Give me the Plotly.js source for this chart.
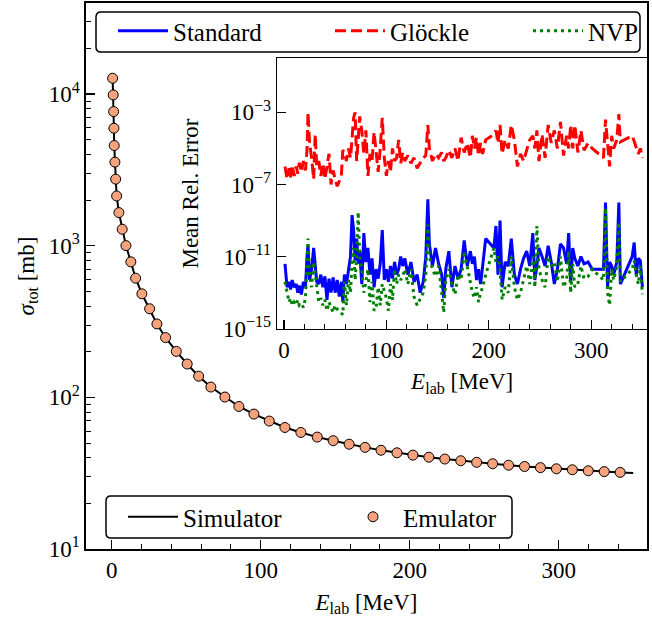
<!DOCTYPE html>
<html><head><meta charset="utf-8">
<script src="https://cdn.plot.ly/plotly-3.0.1.min.js"></script>
<style>html,body{margin:0;padding:0;background:#fff;}</style>
</head><body><div id="chart" style="width:652px;height:619px;"></div>
<script>
// Main panel: total cross section
const simulatorE = [0.67,1.07,1.34,1.54,1.74,2.2,2.7,3.35,4.9,7.1,9.6,12.9,16.1,20.3,25.5,30.4,36.2,43.4,50.7,58.4,66.6,76.0,85.4,95.5,105.8,116.3,127.0,138.0,148.7,159.4,170.1,180.8,191.5,202.2,212.9,223.6,234.3,245.0,255.7,266.4,277.1,287.8,298.5,309.2,319.9,330.6,341.3,350];
const simulatorSigma = [12730,9880,7670,5960,4580,3560,2750,2130,1655,1285,1002,783,611,482,384,305,248,201,166,138,117,100.5,87.1,77.6,69.8,63.3,58.7,54.7,51.8,49.1,46.8,44.8,43.1,41.6,40.3,39.2,38.2,37.3,36.5,35.7,35.0,34.4,33.8,33.3,32.8,32.4,32.0,31.7];
const emulatorE = [0.67,1.07,1.34,1.54,1.74,2.2,2.7,3.35,4.9,7.1,9.6,12.9,16.1,20.3,25.5,30.4,36.2,43.4,50.7,58.4,66.6,76.0,85.4,95.5,105.8,116.3,127.0,138.0,148.7,159.4,170.1,180.8,191.5,202.2,212.9,223.6,234.3,245.0,255.7,266.4,277.1,287.8,298.5,309.2,319.9,330.6,341.3];
const emulatorSigma = [12730,9880,7670,5960,4580,3560,2750,2130,1655,1285,1002,783,611,482,384,305,248,201,166,138,117,100.5,87.1,77.6,69.8,63.3,58.7,54.7,51.8,49.1,46.8,44.8,43.1,41.6,40.3,39.2,38.2,37.3,36.5,35.7,35.0,34.4,33.8,33.3,32.8,32.4,32.0];

// Inset: mean relative error
const testEnergies = [1,3,5,6.5,8,10,12,13.5,15,17,19,21,
 22.5,23.5,25,27,29,30.5,32,34,36,38,40,42,44,46,48,50,52,54,56,57.5,59,61,63,65,
 66.5,68,69.5,71,72.5,74,76,78,80,82,84,86,88,90,92,94,96,98,100,
 102,104,106,108,110,112,114,116,118,
 121,124,127,130,133,136,138.5,140.5,142,145,148,151,154,156,158,161,164,167,170,173,176,179,182,184,186,188,190,192,194,197,
 205,207,209,211,213,216,219,222,225,228,231,234,237,240,243,245,247,249,252,255,258,261,264,267,270,273,276,278,280,282,284,287,290,293,297,301,
 312,314,316,318,320,322,325,327,328.5,
 340,342,344,346,348,350];
const glockleErr = [1e-6,2e-7,8e-7,2.5e-7,1.2e-6,3e-7,1e-6,4e-7,1.6e-6,5e-7,2e-6,6e-7,
 8e-6,1e-3,2e-5,3e-6,2e-7,6e-5,1e-6,2e-6,3e-7,1.5e-6,2e-7,8e-7,5e-6,1e-7,6e-7,2e-7,8e-8,1.5e-7,3e-7,8e-6,6e-6,2e-6,1e-5,3e-6,
 5e-5,5e-4,1e-3,2e-6,3e-5,6e-4,1e-4,5e-6,1e-4,3e-7,5e-6,2e-6,8e-5,4e-6,5e-7,1e-5,5e-4,3e-6,3e-7,
 2e-6,5e-7,1e-5,2e-6,3e-6,3e-5,1.5e-6,6e-6,2e-6,
 4e-6,1.5e-6,3e-6,8e-7,1.5e-6,3e-6,4e-6,2e-4,1e-5,2e-6,5e-6,3e-6,6e-6,2e-6,3e-6,8e-6,3e-6,1e-5,2e-6,4e-5,6e-6,2e-5,3e-6,5e-5,1e-5,4e-5,4e-6,2e-5,5e-6,3e-5,
 6e-5,1e-4,2e-5,2e-4,5e-6,3e-5,1e-5,2e-4,3e-5,1e-6,5e-6,2e-6,8e-6,3e-5,5e-5,1e-5,1e-4,2e-6,6e-5,3e-6,2e-4,2e-5,1e-4,1e-5,3e-4,4e-6,5e-5,1e-5,2e-4,1e-5,2e-4,6e-6,1e-4,8e-6,2e-5,1e-5,
 3e-6,4e-4,2e-5,1e-6,5e-5,1e-5,3e-5,8e-4,2.3e-5,
 5e-5,2.5e-5,1e-5,5e-6,1e-5,3e-6];
const standardErr = [4e-12,2e-13,4e-13,1.5e-13,5e-13,2e-13,3e-13,1e-13,2.5e-13,8e-14,4e-13,2e-13,
 1e-11,4e-11,5e-13,2e-12,3e-11,2e-12,4e-13,3e-13,1e-12,2e-13,8e-13,4e-14,6e-13,1e-13,7e-13,1e-13,5e-13,6e-14,4e-13,3e-14,1e-12,3e-13,2e-12,1e-11,
 2e-9,3e-10,6e-12,1e-10,4e-12,2e-11,3e-13,2e-10,5e-12,3e-11,1e-12,8e-12,2e-13,2e-12,6e-13,4e-12,3e-10,5e-13,2e-12,
 4e-13,3e-12,6e-13,5e-12,1e-12,2e-12,1e-11,3e-12,8e-12,
 1e-12,5e-12,4e-13,1e-12,1e-13,4e-13,1e-11,1.5e-8,5e-11,3e-12,3e-11,4e-12,1e-12,5e-14,2e-12,2e-11,2e-13,3e-12,6e-13,2e-12,8e-11,3e-12,2e-11,4e-12,1e-11,5e-13,2e-12,3e-13,3e-12,1e-10,
 3e-11,5e-10,1e-12,1e-9,2e-13,5e-12,3e-12,1e-10,1e-12,3e-13,2e-12,8e-12,2e-11,3e-12,2e-10,5e-13,3e-12,3e-11,1e-11,3e-12,4e-11,5e-12,3e-13,2e-12,5e-11,3e-11,4e-12,2e-10,4e-13,3e-11,8e-12,3e-12,1e-11,4e-12,5e-12,2e-12,
 2e-12,1e-8,2e-13,5e-12,3e-12,1e-12,5e-12,1e-8,3e-13,
 1e-11,6e-11,1e-12,8e-12,6e-12,2e-13];
const nvpErr = [4e-13,1e-13,3e-14,5e-14,2e-14,3e-14,2e-14,4e-14,2e-14,2.5e-14,1.5e-14,5e-14,
 2e-11,1e-10,1e-12,2e-13,5e-12,1e-12,2e-13,3e-14,5e-14,2e-14,4e-14,1e-14,3e-14,1.5e-14,8e-15,2e-14,1.2e-14,1e-14,8e-15,6e-15,4e-13,2e-14,5e-13,1e-13,
 6e-12,3e-11,5e-13,1e-11,3e-9,1e-11,2e-12,1e-13,4e-13,2e-12,3e-14,4e-13,1e-14,1.5e-14,2e-13,2e-14,3e-13,1e-13,5e-14,
 1e-14,3e-13,4e-14,2e-12,3e-13,1e-12,5e-13,8e-13,2e-12,
 3e-13,2e-12,6e-14,2e-14,5e-14,1e-13,1e-12,6e-10,1e-11,2e-12,8e-13,3e-12,1e-13,8e-15,5e-13,2e-12,3e-13,8e-14,1e-12,5e-13,2e-11,3e-12,4e-13,1e-13,5e-14,2e-13,3e-14,1e-13,2e-13,1e-12,
 3e-11,5e-12,1e-11,2e-12,4e-14,2e-13,1e-13,1e-11,2e-13,4e-14,1e-13,5e-13,3e-12,3e-13,1e-11,2e-13,5e-10,2e-12,5e-13,2e-13,1e-11,3e-12,5e-12,4e-13,1e-11,2e-13,5e-13,2e-11,1e-13,4e-12,2e-13,3e-13,3e-12,6e-13,8e-13,2e-12,
 5e-13,5e-9,1e-13,2e-14,2e-12,5e-13,3e-12,8e-10,4e-13,
 2e-12,6e-12,1e-12,3e-13,3e-12,8e-14];

const mainXTicks = [0,100,200,300];
const mainYTicks = [10,100,1000,10000];
const mainYTickText = ['10<sup>1</sup>','10<sup>2</sup>','10<sup>3</sup>','10<sup>4</sup>'];
const insetYTicks = [1e-15,1e-11,1e-7,1e-3];
const insetYTickText = ['10<sup>−15</sup>','10<sup>−11</sup>','10<sup>−7</sup>','10<sup>−3</sup>'];

const FONT = 'Liberation Serif, Times New Roman, serif';
const xMinor = []; for (let v = 20; v < 360; v += 20) if (v % 100) xMinor.push(v);
const yMinor = []; [10,100,1000,10000].forEach(d => { for (let k = 2; k <= 9; k++) yMinor.push(k*d); });

// plot area geometry (px) for placing legend pieces
const L = 86, T = 3, PW = 561, PH = 546;
const fx = p => (p - L) / PW;
const fy = p => (T + PH - p) / PH;

const traces = [
  {x: testEnergies, y: standardErr, xaxis:'x2', yaxis:'y2', mode:'lines', name:'Standard',
   line:{color:'#0000ff', width:3}, legend:'legend'},
  {x: testEnergies, y: glockleErr, xaxis:'x2', yaxis:'y2', mode:'lines', name:'Glöckle',
   line:{color:'#ff0000', width:3, dash:'11px,5px'}, legend:'legend2'},
  {x: testEnergies, y: nvpErr, xaxis:'x2', yaxis:'y2', mode:'lines', name:'NVP',
   line:{color:'#008000', width:3, dash:'3px,4px'}, legend:'legend3'},
  {x: simulatorE, y: simulatorSigma, xaxis:'x', yaxis:'y', mode:'lines', name:'Simulator',
   line:{color:'black', width:2}, legend:'legend4'},
  {x: emulatorE, y: emulatorSigma, xaxis:'x', yaxis:'y', mode:'markers', name:'Emulator',
   marker:{color:'#f6a27c', size:10, line:{color:'black', width:1}}, legend:'legend5'}
];

const axisCommon = {
  showline:true, linecolor:'black', linewidth:1.6, mirror:true, showgrid:false, zeroline:false,
  ticks:'inside', ticklen:9, tickwidth:1.3, tickcolor:'black', tickfont:{family:FONT, size:23, color:'black'},
  automargin:false
};

function leg(xpx, ypx) {
  return {x:fx(xpx), y:fy(ypx), xanchor:'left', yanchor:'middle', orientation:'h',
    bgcolor:'rgba(0,0,0,0)', borderwidth:0, font:{family:FONT, size:25, color:'black'}, itemwidth:50};
}
function roundBox(x0, y0, x1, y1, r) {
  const X0 = fx(x0), X1 = fx(x1), Y0 = fy(y0), Y1 = fy(y1);
  const rx = r / PW, ry = r / PH;
  const p = `M${X0+rx},${Y0} L${X1-rx},${Y0} Q${X1},${Y0} ${X1},${Y0-ry} L${X1},${Y1+ry} Q${X1},${Y1} ${X1-rx},${Y1} L${X0+rx},${Y1} Q${X0},${Y1} ${X0},${Y1+ry} L${X0},${Y0-ry} Q${X0},${Y0} ${X0+rx},${Y0} Z`;
  return {type:'path', xref:'paper', yref:'paper', path:p, fillcolor:'white', line:{color:'black', width:1.5}, layer:'above'};
}

const layout = {
  width:652, height:619,
  margin:{l:L, r:652-L-PW, t:T, b:619-T-PH},
  paper_bgcolor:'white', plot_bgcolor:'white',
  font:{family:FONT, size:22, color:'black'},
  showlegend:true,
  xaxis: Object.assign({}, axisCommon, {
    domain:[0,1], range:[-17.2,359.3], anchor:'y', tickmode:'array', tickvals:mainXTicks,
    minor:{ticks:'inside', ticklen:5, tickwidth:1, tickcolor:'black', tickmode:'array', tickvals:xMinor},
    title:{text:'<i>E</i><sub>lab</sub> [MeV]', font:{family:FONT, size:23}, standoff:11}
  }),
  yaxis: Object.assign({}, axisCommon, {
    domain:[0,1], type:'log', range:[1,4.601], anchor:'x', tickmode:'array', tickvals:mainYTicks, ticktext:mainYTickText,
    minor:{ticks:'inside', ticklen:5, tickwidth:1, tickcolor:'black', tickmode:'array', tickvals:yMinor},
    title:{text:'<i>σ</i><sub>tot</sub> [mb]', font:{family:FONT, size:23}, standoff:8}
  }),
  xaxis2: Object.assign({}, axisCommon, {
    domain:[fx(277.3),1], range:[-6.5,354.5], anchor:'y2', tickmode:'array', tickvals:mainXTicks,
    minor:{ticks:'inside', ticklen:5, tickwidth:1, tickcolor:'black', tickmode:'array', tickvals:xMinor},
    title:{text:'<i>E</i><sub>lab</sub> [MeV]', font:{family:FONT, size:23}, standoff:11}
  }),
  yaxis2: Object.assign({}, axisCommon, {
    domain:[fy(328.7),fy(58.3)], type:'log', range:[-15,0], anchor:'x2', tickmode:'array', tickvals:insetYTicks, ticktext:insetYTickText,
    title:{text:'Mean Rel. Error', font:{family:FONT, size:23}, standoff:18}
  }),
  shapes:[roundBox(96, 12, 640, 52, 5), roundBox(106, 496, 512, 538, 5)],
  legend: leg(113, 31),
  legend2: leg(330, 31),
  legend3: leg(528, 31),
  legend4: leg(123, 517),
  legend5: leg(343, 517)
};

Plotly.newPlot('chart', traces, layout, {displayModeBar:false, staticPlot:true});
</script></body></html>
